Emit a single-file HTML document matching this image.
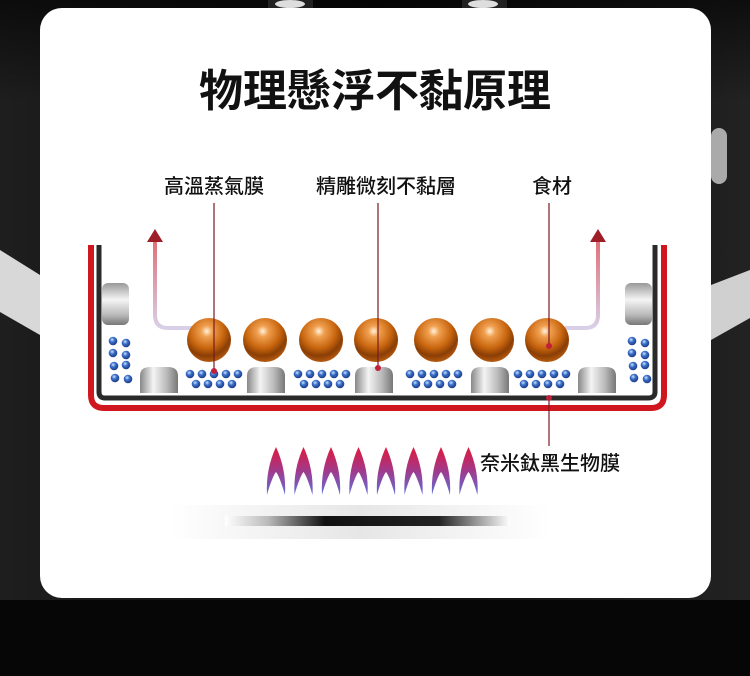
<!DOCTYPE html>
<html><head><meta charset="utf-8"><style>
html,body{margin:0;padding:0;background:#0a0a0a;}
body{width:750px;height:676px;overflow:hidden;position:relative;}
svg{position:absolute;left:0;top:0;}
text{font-family:"Liberation Sans","Noto Sans CJK TC","Noto Sans CJK SC",sans-serif;}
</style></head><body>
<svg width="750" height="676" viewBox="0 0 750 676" xmlns="http://www.w3.org/2000/svg">
<defs>
<linearGradient id="bg" x1="0" y1="0" x2="1" y2="0"><stop offset="0" stop-color="#1e1e1e"/><stop offset="0.5" stop-color="#0c0c0c"/><stop offset="1" stop-color="#222"/></linearGradient>
<linearGradient id="bgv" x1="0" y1="0" x2="0" y2="1"><stop offset="0" stop-color="#000" stop-opacity="0.6"/><stop offset="0.15" stop-color="#000" stop-opacity="0"/></linearGradient>
<radialGradient id="ball" cx="0.45" cy="0.3" r="0.7"><stop offset="0" stop-color="#fff2dc"/><stop offset="0.18" stop-color="#f0a050"/><stop offset="0.55" stop-color="#c9660f"/><stop offset="0.8" stop-color="#8a3e05"/><stop offset="1" stop-color="#b55a10"/></radialGradient>
<radialGradient id="dot" cx="0.4" cy="0.35" r="0.7"><stop offset="0" stop-color="#cfe3ff"/><stop offset="0.4" stop-color="#3a6fc8"/><stop offset="1" stop-color="#1a3580"/></radialGradient>
<linearGradient id="pill" x1="0" y1="0" x2="1" y2="0"><stop offset="0" stop-color="#888"/><stop offset="0.35" stop-color="#f4f4f4"/><stop offset="0.7" stop-color="#bbb"/><stop offset="1" stop-color="#777"/></linearGradient>
<linearGradient id="side" x1="0" y1="0" x2="0" y2="1"><stop offset="0" stop-color="#999"/><stop offset="0.4" stop-color="#f4f4f4"/><stop offset="0.75" stop-color="#bbb"/><stop offset="1" stop-color="#777"/></linearGradient>
<linearGradient id="flame" x1="0" y1="0" x2="0" y2="1"><stop offset="0" stop-color="#e0183c"/><stop offset="0.5" stop-color="#a03a8c"/><stop offset="1" stop-color="#6070d8"/></linearGradient>
<linearGradient id="arrow" x1="0" y1="0" x2="0" y2="1"><stop offset="0" stop-color="#e07078"/><stop offset="1" stop-color="#d8d0e8"/></linearGradient>
<linearGradient id="shadow" x1="0" y1="0" x2="1" y2="0"><stop offset="0" stop-color="#fff"/><stop offset="0.15" stop-color="#bbb"/><stop offset="0.35" stop-color="#111"/><stop offset="0.75" stop-color="#222"/><stop offset="1" stop-color="#fff"/></linearGradient>
<linearGradient id="shadow2" x1="0" y1="0" x2="1" y2="0"><stop offset="0" stop-color="#fff"/><stop offset="0.5" stop-color="#e6e6e6"/><stop offset="1" stop-color="#fff"/></linearGradient>
</defs>
<rect width="750" height="676" fill="url(#bg)"/>
<rect width="750" height="676" fill="url(#bgv)"/>
<rect y="600" width="750" height="76" fill="#060606"/>
<polygon points="0,250 40,275 40,335 0,312" fill="#d8d8d8"/>
<polygon points="711,285 750,270 750,318 711,340" fill="#d0d0d0"/>
<rect x="711" y="128" width="16" height="56" rx="8" fill="#aaa"/>
<rect x="268" y="0" width="45" height="8" fill="#222"/>
<ellipse cx="290" cy="4" rx="15" ry="4" fill="#ddd"/>
<rect x="462" y="0" width="45" height="8" fill="#222"/>
<ellipse cx="483" cy="4" rx="15" ry="4" fill="#ddd"/>
<rect x="40" y="8" width="671" height="590" rx="22" fill="#fff"/>
<text x="375" y="106" font-size="44" font-weight="bold" text-anchor="middle" fill="#111">物理懸浮不黏原理</text>
<g font-weight="500" fill="#111">
<text x="214" y="193" font-size="20" text-anchor="middle">高溫蒸氣膜</text>
<text x="386" y="193" font-size="20" text-anchor="middle">精雕微刻不黏層</text>
<text x="552" y="193" font-size="20" text-anchor="middle">食材</text>
<text x="480" y="470" font-size="20">奈米鈦黑生物膜</text>
</g>
<rect x="170" y="505" width="380" height="34" fill="url(#shadow2)"/>
<rect x="225" y="516" width="285" height="10" fill="url(#shadow)"/>
<path d="M91,245 V395 Q91,408 104,408 H651 Q664,408 664,395 V245" fill="none" stroke="#d0161e" stroke-width="6"/>
<path d="M99,245 V392 Q99,398 105,398 H648 Q655,398 655,392 V245" fill="none" stroke="#2a2a2a" stroke-width="5"/>
<rect x="102" y="283" width="27" height="42" rx="6" fill="url(#side)"/>
<rect x="625" y="283" width="27" height="42" rx="6" fill="url(#side)"/>
<path d="M155,240 V315 Q155,328 168,328 H192" fill="none" stroke="url(#arrow)" stroke-width="4"/>
<polygon points="147,242 163,242 155,229" fill="#9e1e28"/>
<path d="M598,240 V315 Q598,328 585,328 H565" fill="none" stroke="url(#arrow)" stroke-width="4"/>
<polygon points="590,242 606,242 598,229" fill="#9e1e28"/>
<g id="g"></g>
<line x1="214" y1="203" x2="214" y2="370" stroke="#7a1a20" stroke-width="1.2"/>
<line x1="378" y1="203" x2="378" y2="368" stroke="#7a1a20" stroke-width="1.2"/>
<line x1="549" y1="203" x2="549" y2="345" stroke="#7a1a20" stroke-width="1.2"/>
<line x1="549" y1="398" x2="549" y2="446" stroke="#7a1a20" stroke-width="1.2"/>
<circle cx="214" cy="371" r="3" fill="#c0203a"/><circle cx="378" cy="368" r="3" fill="#c0203a"/><circle cx="549" cy="346" r="3" fill="#c0203a"/><circle cx="549" cy="398" r="3" fill="#c0203a"/>
</svg>
<script>
var g=document.getElementById('g'),h='';
[140,247,355,471,578].forEach(function(x){h+='<path d="M'+x+',393 V376 Q'+x+',367 '+(x+10)+',367 H'+(x+28)+' Q'+(x+38)+',367 '+(x+38)+',376 V393 Z" fill="url(#pill)"/>';});
[190,298,410,518].forEach(function(x){for(var i=0;i<5;i++)h+='<circle cx="'+(x+i*12)+'" cy="374" r="4.3" fill="url(#dot)"/>';for(var i=0;i<4;i++)h+='<circle cx="'+(x+6+i*12)+'" cy="384" r="4.3" fill="url(#dot)"/>';});
[113,632].forEach(function(x){[[0,341],[13,343],[0,353],[13,355],[1,366],[13,365],[2,378],[15,379]].forEach(function(p){h+='<circle cx="'+(x+p[0])+'" cy="'+p[1]+'" r="4.3" fill="url(#dot)"/>';});});
[209,265,321,376,436,492,547].forEach(function(x){h+='<circle cx="'+x+'" cy="340" r="22" fill="url(#ball)"/>';});
for(var i=0;i<8;i++){var x=276+i*27.5;h+='<path d="M'+x+',447 C'+(x+7)+',462 '+(x+10)+',478 '+(x+9)+',495 C'+(x+6)+',484 '+(x+2)+',474 '+x+',472 C'+(x-2)+',474 '+(x-6)+',484 '+(x-9)+',495 C'+(x-10)+',478 '+(x-7)+',462 '+x+',447 Z" fill="url(#flame)"/>';}
g.innerHTML=h;
</script>
</body></html>
